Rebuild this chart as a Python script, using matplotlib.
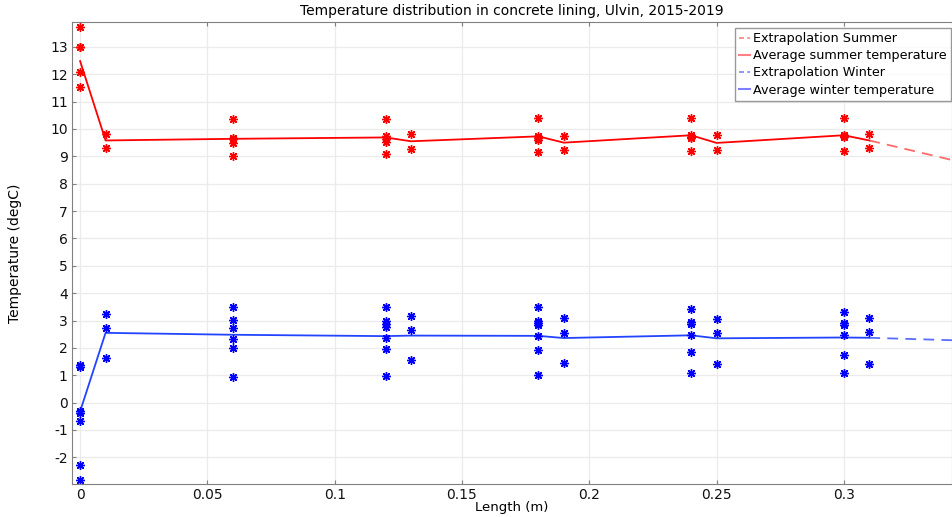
import matplotlib
matplotlib.use("Agg")
import matplotlib.pyplot as plt
from matplotlib.lines import Line2D
from matplotlib.ticker import FuncFormatter, MultipleLocator

plt.rcParams['font.family'] = ['DejaVu Sans']
plt.rcParams['axes.unicode_minus'] = False

# Measurement depths (m)
depths = [0.0, 0.01, 0.06, 0.12, 0.13, 0.18, 0.19, 0.24, 0.25, 0.30, 0.31]

# Summer measured temperatures at each depth
summer_points = [
    [13.73, 13.0, 12.98, 12.09, 11.54],
    [9.83, 9.32],
    [10.35, 9.68, 9.62, 9.47, 9.0],
    [10.37, 9.73, 9.65, 9.54, 9.07],
    [9.81, 9.28],
    [10.39, 9.73, 9.68, 9.61, 9.15],
    [9.74, 9.22],
    [10.41, 9.77, 9.71, 9.67, 9.18],
    [9.77, 9.22],
    [10.41, 9.78, 9.75, 9.72, 9.18],
    [9.83, 9.30],
]
# Winter measured temperatures at each depth
winter_points = [
    [1.36, 1.30, -0.30, -0.38, -0.66, -2.29, -2.83],
    [3.25, 2.72, 1.63],
    [3.50, 3.03, 2.72, 2.34, 1.98, 0.92],
    [3.48, 2.98, 2.87, 2.75, 2.37, 1.95, 0.96],
    [3.17, 2.64, 1.55],
    [3.48, 2.99, 2.90, 2.84, 2.43, 1.93, 1.01],
    [3.09, 2.54, 1.46],
    [3.41, 2.94, 2.88, 2.46, 1.84, 1.07],
    [3.06, 2.53, 1.41],
    [3.32, 2.92, 2.84, 2.47, 1.73, 1.08],
    [3.09, 2.58, 1.42],
]

summer_avg = [12.48, 9.58, 9.64, 9.69, 9.55, 9.73, 9.50, 9.77, 9.49, 9.77, 9.58]
winter_avg = [-0.32, 2.55, 2.48, 2.43, 2.45, 2.44, 2.36, 2.46, 2.35, 2.38, 2.37]

extrap_x = [0.31, 0.35]
summer_extrap = [9.58, 8.70]
winter_extrap = [2.37, 2.26]

xtick_vals = [0, 0.05, 0.1, 0.15, 0.2, 0.25, 0.3]

fig = plt.figure(figsize=(9.52, 5.17), dpi=100)
ax = fig.add_axes([0.0756, 0.064, 0.9244, 0.893])

red = '#ff0000'

ax.plot(extrap_x, summer_extrap, color='#ff6a6a', lw=1.3, ls=(0, (6, 4)))
ax.plot(depths, summer_avg, color=red, lw=1.3)
ax.plot(extrap_x, winter_extrap, color='#5b6dff', lw=1.3, ls=(0, (6, 4)))
ax.plot(depths, winter_avg, color='#2244ff', lw=1.3)

for d, vals in zip(depths, summer_points):
    ax.plot([d] * len(vals), vals, ls='none', marker=(8, 2, 0), ms=6.2,
            mew=1.0, color=red)
for d, vals in zip(depths, winter_points):
    ax.plot([d] * len(vals), vals, ls='none', marker=(8, 2, 0), ms=6.2,
            mew=1.0, color='#0000ff')

ax.set_xlim(-0.0032, 0.3425)
ax.set_ylim(-2.97, 13.9)
ax.set_xticks(xtick_vals)
ax.xaxis.set_major_formatter(FuncFormatter(lambda v, p: '%g' % round(v, 4)))
ax.yaxis.set_major_locator(MultipleLocator(1))
ax.yaxis.set_major_formatter(FuncFormatter(lambda v, p: '%d' % round(v)))
ax.grid(True, color='#ebebeb', lw=0.9)
ax.set_axisbelow(True)
for s in ax.spines.values():
    s.set_color('#808080')
ax.tick_params(direction='in', length=3, color='#808080', labelsize=10,
               labelcolor='#111111', top=True, pad=3)

ax.set_title('Temperature distribution in concrete lining, Ulvin, 2015-2019',
             fontsize=10, pad=5)
ax.set_xlabel('Length (m)', fontsize=9.5, labelpad=-1)
ax.set_ylabel('Temperature (degC)', fontsize=10, labelpad=20)

handles = [
    Line2D([], [], color='#ff8080', ls=(0, (3, 2)), lw=1.2),
    Line2D([], [], color='#ff8080', lw=1.5),
    Line2D([], [], color='#8080ff', ls=(0, (3, 2)), lw=1.2),
    Line2D([], [], color='#8080ff', lw=1.5),
]
labels = ['Extrapolation Summer', 'Average summer temperature',
          'Extrapolation Winter', 'Average winter temperature']
leg = ax.legend(handles, labels, loc='upper right', bbox_to_anchor=(0.9985, 0.987),
                fontsize=9.2, frameon=True, fancybox=False, handlelength=0.9,
                handletextpad=0.25, borderpad=0.3, labelspacing=0.33,
                borderaxespad=0)
leg.get_frame().set_edgecolor('#808080')
leg.get_frame().set_linewidth(1.0)

fig.savefig('out.png', dpi=100)
